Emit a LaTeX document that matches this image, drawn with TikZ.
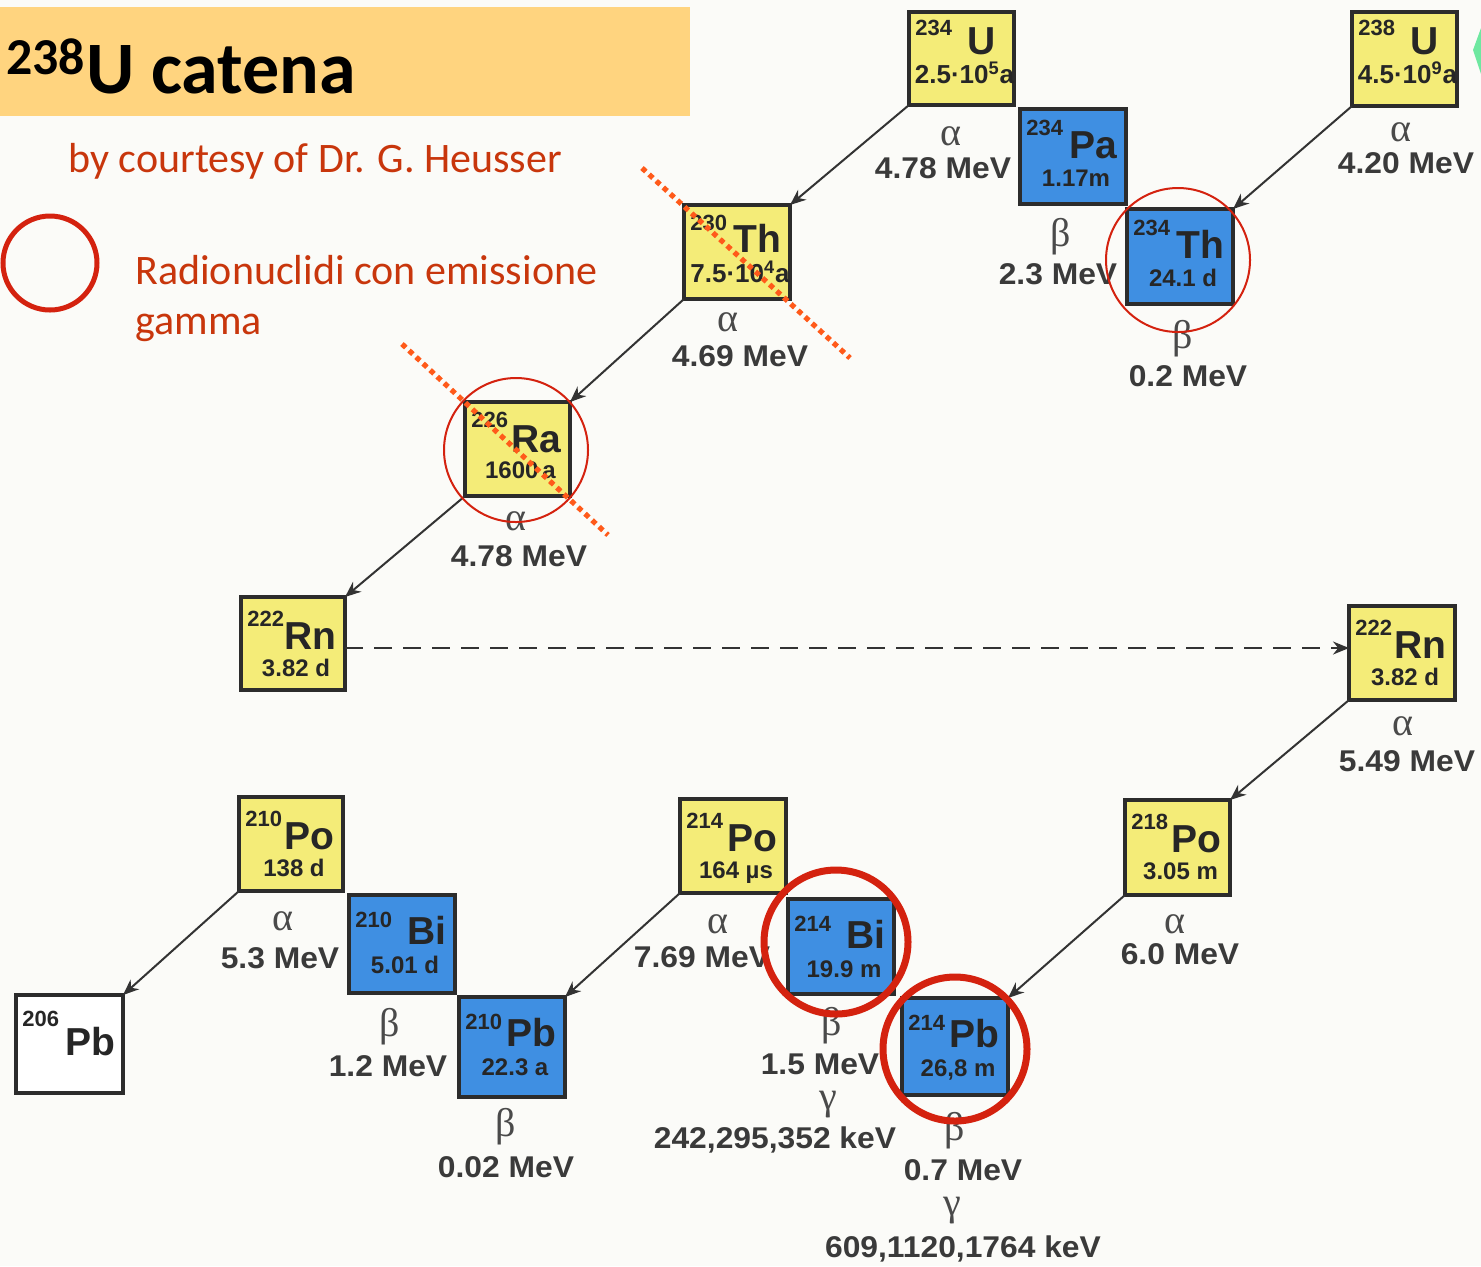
\documentclass[tikz,border=0pt]{standalone}
\usepackage{fontspec}
\setmainfont{Liberation Sans}
\newfontfamily\slidefont{Carlito}
\newfontfamily\greekfont{Liberation Serif}
\newfontfamily\labelfont{Liberation Sans}[FakeStretch=1.06]
\usetikzlibrary{arrows.meta}

\definecolor{bgc}{HTML}{FBFBF8}
\definecolor{yel}{HTML}{F4EC78}
\definecolor{blu}{HTML}{3F8FE2}
\definecolor{boxline}{HTML}{2C2C2C}
\definecolor{boxtext}{HTML}{262626}
\definecolor{lblc}{HTML}{3A3A3A}
\definecolor{greekc}{HTML}{4A4A4A}
\definecolor{arrowc}{HTML}{333333}
\definecolor{ringc}{HTML}{D4220F}
\definecolor{xoutc}{HTML}{FF5A1A}
\definecolor{bandc}{HTML}{FFD47F}
\definecolor{notec}{HTML}{C8360C}
\definecolor{greenc}{HTML}{6EE8A0}

% offsets (px) of mass number, symbol and half-life inside a box
\def\nucMassOff{14}
\def\nucSymOff{52}
\def\nucHalfOff{80}
\def\nucSymRight{10}
\def\nucHalfSize{12pt}

% name, left, top, right, bottom, fill, mass number, symbol, half-life
\newcommand\nuclide[9]{%
  \node[nbox, fill=#6, minimum width={(#4-#2-4)*0.5pt}, minimum height={(#5-#3-4)*0.5pt}]
    (#1) at ({(#2+#4)/2},{(#3+#5)/2}) {};
  \node[massf, anchor=north west] (#1-A) at ({#2+8},{#3+\nucMassOff}) {#7};
  \node[symf, anchor=base east] (#1-S) at ({#4-\nucSymRight},{#3+\nucSymOff}) {#8};
  \node[halff, anchor=base] (#1-T) at ({(#2+#4)/2+3},{#3+\nucHalfOff}) {#9};
}

\tikzset{
  nbox/.style={draw=boxline, line width=2pt, inner sep=0pt, outer sep=0pt},
  massf/.style={inner sep=0pt, text=boxtext, font=\bfseries\fontsize{11pt}{13pt}\selectfont},
  symf/.style={inner sep=0pt, text=boxtext, font=\bfseries\fontsize{19.5pt}{22pt}\selectfont},
  halff/.style={inner sep=0pt, text=boxtext, font=\bfseries\fontsize{\nucHalfSize}{14pt}\selectfont},
  greek/.style={inner sep=0pt, text=greekc, font=\greekfont\fontsize{20pt}{22pt}\selectfont},
  energy/.style={inner sep=0pt, text=lblc, font=\labelfont\bfseries\fontsize{15pt}{18pt}\selectfont},
  decay/.style={draw=arrowc, line width=1pt, -{Stealth[length=8pt,width=6.5pt]}},
  transport/.style={draw=arrowc, line width=1pt, dash pattern=on 9pt off 5.5pt, -{Stealth[length=8pt,width=6.5pt]}},
  ringthin/.style={draw=ringc, line width=1pt},
  ringthick/.style={draw=ringc, line width=3.5pt},
  xout/.style={draw=xoutc, line width=2.6pt, dash pattern=on 2.6pt off 2.2pt},
  note/.style={inner sep=0pt, text=notec, font=\slidefont\fontsize{21pt}{24pt}\selectfont},
}

\begin{document}
\begin{tikzpicture}[x=0.5pt, y=-0.5pt]
\useasboundingbox (0,0) rectangle (1481,1266);
\fill[bgc] (0,0) rectangle (1481,1266);

% title band and notes
\fill[bandc] (0,7) rectangle (690,116);
\node[inner sep=0pt, anchor=base west, font=\slidefont\bfseries\fontsize{37pt}{42pt}\selectfont]
  (title) at (6,93) {\textsuperscript{238}U catena};
\node[note, anchor=base west] (credit) at (68,172) {by courtesy of Dr. G. Heusser};
\draw[ringc, line width=2.5pt] (50,263) circle[radius=47];
\node[note, anchor=base west] (legend1) at (135,284) {Radionuclidi con emissione};
\node[note, anchor=base west] (legend2) at (135,334) {gamma};

% partial marker at the right edge
\fill[greenc] (1481,28) -- (1473,50) -- (1481,74) -- cycle;

% nuclides
\def\nucMassOff{10}\def\nucSymOff{44}\def\nucHalfOff{73}\def\nucHalfSize{13pt}\def\nucSymRight{20}
\nuclide{u238}{1350}{10}{1459}{108}{yel}{238}{U}{4.5·10\textsuperscript{9}a}
\nuclide{u234}{907}{10}{1016}{107}{yel}{234}{U}{2.5·10\textsuperscript{5}a}
\def\nucMassOff{12}\def\nucSymOff{49}\def\nucHalfOff{79}\def\nucSymRight{10}
\nuclide{th230}{682}{203}{792}{301}{yel}{230}{Th}{7.5·10\textsuperscript{4}a}
\def\nucMassOff{12}\def\nucSymOff{52}\def\nucHalfOff{78}\def\nucHalfSize{12pt}
\nuclide{ra226}{463}{400}{572}{498}{yel}{226}{Ra}{1600\,a}
\def\nucMassOff{13}\def\nucSymOff{51}\def\nucHalfOff{79}
\nuclide{pa234}{1018}{107}{1128}{206}{blu}{234}{Pa}{1.17m}
\nuclide{th234}{1125}{207}{1235}{306}{blu}{234}{Th}{24.1 d}
\def\nucMassOff{16}\def\nucSymOff{54}\def\nucHalfOff{81}
\nuclide{rnL}{239}{595}{347}{692}{yel}{222}{Rn}{3.82 d}
\nuclide{rnR}{1347}{604}{1457}{702}{yel}{222}{Rn}{3.82 d}
\nuclide{po218}{1123}{798}{1232}{897}{yel}{218}{Po}{3.05 m}
\nuclide{po214}{678}{797}{788}{895}{yel}{214}{Po}{164 µs}
\nuclide{po210}{237}{795}{345}{893}{yel}{210}{Po}{138 d}
\def\nucMassOff{19}\def\nucSymOff{51}\def\nucHalfOff{80}
\nuclide{bi214}{786}{897}{896}{996}{blu}{214}{Bi}{19.9 m}
\nuclide{pb214}{900}{996}{1010}{1097}{blu}{214}{Pb}{26,8 m}
\nuclide{bi210}{347}{893}{457}{995}{blu}{210}{Bi}{5.01 d}
\nuclide{pb210}{457}{995}{567}{1099}{blu}{210}{Pb}{22.3 a}

% stable end product
\node[nbox, fill=white, minimum width={(125-14-4)*0.5pt}, minimum height={(1095-993-4)*0.5pt}]
  (pb206) at (69.5,1044) {};
\node[massf, anchor=north west] (pb206-A) at (22,1011) {206};
\node[symf, anchor=base east] (pb206-S) at (116,1055) {Pb};

% alpha decays
\draw[decay] (u238.south west) -- (th234.north east);
\draw[decay] (u234.south west) -- (th230.north east);
\draw[decay] (th230.south west) -- (ra226.north east);
\draw[decay] (ra226.south west) -- (rnL.north east);
\draw[decay] (rnR.south west) -- (po218.north east);
\draw[decay] (po218.south west) -- (pb214.north east);
\draw[decay] (po214.south west) -- (pb210.north east);
\draw[decay] (po210.south west) -- (pb206.north east);
\draw[transport] (rnL.east |- 0,648) -- (rnR.west |- 0,648);

% decay labels
\node[greek] (a1) at (951,136) {α};
\node[energy] (e1) at (943,168) {4.78 MeV};
\node[greek] (b1) at (1061,237) {β};
\node[energy] (e2) at (1058,274) {2.3 MeV};
\node[greek] (a2) at (1401,132) {α};
\node[energy] (e3) at (1406,163) {4.20 MeV};
\node[greek] (b2) at (1183,339) {β};
\node[energy] (e4) at (1188,376) {0.2 MeV};
\node[greek] (a3) at (728,322) {α};
\node[energy] (e5) at (740,356) {4.69 MeV};
\node[greek] (a4) at (516,521) {α};
\node[energy] (e6) at (519,556) {4.78 MeV};
\node[greek] (a5) at (1403,726) {α};
\node[energy] (e7) at (1407,761) {5.49 MeV};
\node[greek] (a6) at (1175,924) {α};
\node[energy] (e8) at (1180,954) {6.0 MeV};
\node[greek] (a7) at (718,924) {α};
\node[energy] (e9) at (702,957) {7.69 MeV};
\node[greek] (b3) at (832,1026) {β};
\node[energy] (e10) at (820,1064) {1.5 MeV};
\node[greek] (g1) at (828,1105) {γ};
\node[energy] (e11) at (775,1140) {242,295,352 keV};
\node[greek] (b4) at (955,1131) {β};
\node[energy] (e12) at (963,1170) {0.7 MeV};
\node[greek] (g2) at (952,1211) {γ};
\node[energy] (e13) at (963,1249) {609,1120,1764 keV};
\node[greek] (a8) at (283,921) {α};
\node[energy] (e14) at (280,958) {5.3 MeV};
\node[greek] (b5) at (390,1027) {β};
\node[energy] (e15) at (388,1066) {1.2 MeV};
\node[greek] (b6) at (506,1127) {β};
\node[energy] (e16) at (506,1167) {0.02 MeV};

% gamma emitters
\draw[ringthin] (1178,260) circle[radius=72];
\draw[ringthin] (516,450) circle[radius=72];
\draw[ringthick] (836,942) circle[radius=72];
\draw[ringthick] (955,1049) circle[radius=72];

% struck-out nuclides
\draw[xout] (642,168) -- (850,358);
\draw[xout] (402,344) -- (608,535);
\end{tikzpicture}
\end{document}
